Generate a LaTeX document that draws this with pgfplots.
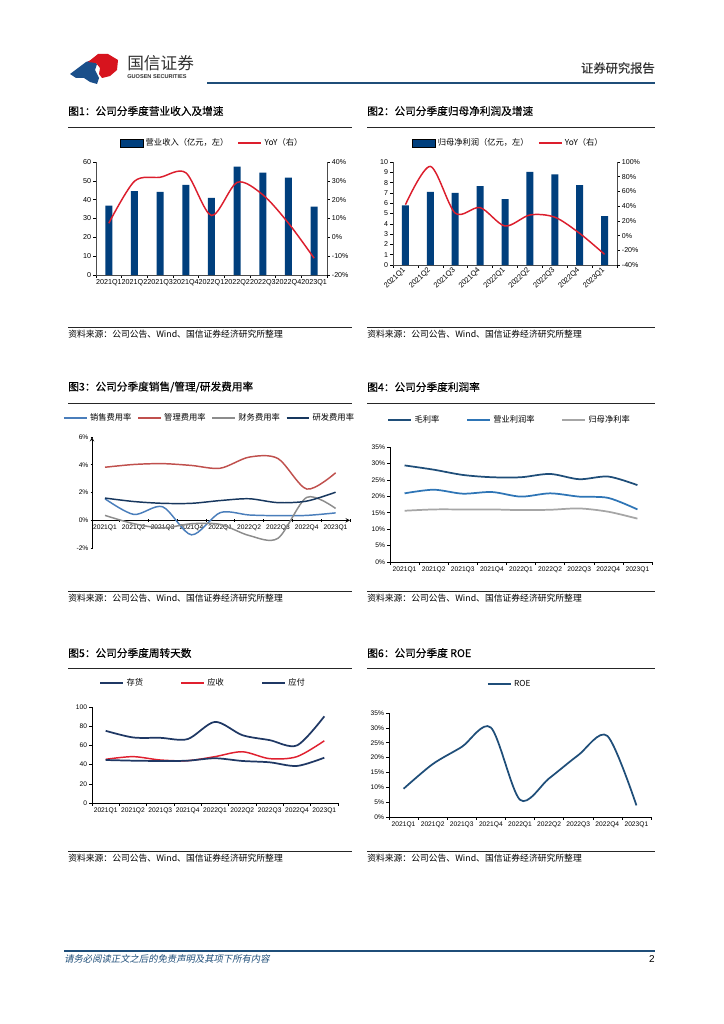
\documentclass[border=0pt]{standalone}
\usepackage{fontspec}
\usepackage{pgfplots}
\pgfplotsset{compat=1.18}
\setmainfont{Liberation Sans}
\newfontfamily\cjk{Noto Sans CJK SC}
\newfontfamily\cjkt[FakeBold=0.5]{Noto Sans CJK SC}
\newfontfamily\cjki[FakeSlant=0.2]{Noto Sans CJK SC}
\newcommand{\fs}[1]{\fontsize{#1}{#1}\selectfont}
\definecolor{barnavy}{HTML}{003F7D}
\definecolor{yoyred}{HTML}{DC1E2D}
\definecolor{c3blue}{HTML}{4A7EBB}
\definecolor{c3red}{HTML}{C0504D}
\definecolor{c3gray}{HTML}{8C8C8C}
\definecolor{c3navy}{HTML}{17375E}
\definecolor{c4navy}{HTML}{1F4E79}
\definecolor{c4blue}{HTML}{2E75B6}
\definecolor{c4gray}{HTML}{A6A6A6}
\definecolor{c5navy}{HTML}{1F3864}
\definecolor{c5red}{HTML}{E0202F}
\definecolor{hdrblue}{HTML}{1F4E79}
\definecolor{logored}{HTML}{D7141E}
\definecolor{logoblue}{HTML}{1B4F8A}

\pgfplotsset{
  base/.style={
    scale only axis, anchor=south west, clip=false,
    xmin=-0.5, xmax=8.5,
    xtick={0,...,8},
    xticklabels={2021Q1,2021Q2,2021Q3,2021Q4,2022Q1,2022Q2,2022Q3,2022Q4,2023Q1},
    major x tick style={draw=none},
    minor xtick={-0.5,0.5,...,8.5},
    minor tick length=2.2pt,
    minor x tick style={black,line width=0.4pt},
    tick align=outside, major tick length=2pt,
    y tick style={black,line width=0.4pt},
    axis line style={black,line width=0.5pt,-},
    ticklabel style={font=\fs{5}, inner sep=1.5pt},
    legend style={draw=none, fill=none, font=\cjk\fs{6.2}, legend columns=-1,
      anchor=center, inner sep=0pt,
      /tikz/every even column/.append style={column sep=4pt}},
    legend cell align=left,
  },
  rax/.style={
    scale only axis, anchor=south west, clip=false,
    xmin=-0.5, xmax=8.5, axis x line=none, axis y line*=right,
    tick align=outside, major tick length=2pt,
    y tick style={black,line width=0.4pt},
    axis line style={black!70,line width=0.5pt,-},
    ticklabel style={font=\fs{5.3}, inner sep=1.5pt},
    legend style={draw=none, fill=none, font=\cjk\fs{6.2}, legend columns=-1,
      anchor=center, inner sep=0pt,
      /tikz/every even column/.append style={column sep=5pt}},
    legend cell align=left,
  },
}

\begin{document}
\begin{tikzpicture}[x=0.75pt,y=-0.75pt]
\fill[white] (0,0) rectangle (724,1024);

% ---------- header ----------
\fill[logoblue] (70,74) -- (86,62) -- (92,60) -- (97,64) -- (95,70) -- (99,78) -- (97,84) -- (90,82) -- (84,78) -- (76,78) -- cycle;
\fill[logored] (88,62) -- (98,54) -- (108,54) -- (113,57) -- (118,60) -- (117,70) -- (110,76) -- (102,78) -- (99,74) -- (100,68) -- (96,63) -- cycle;
\node[anchor=west, inner sep=0, text=black!80] at (127,63) {\cjk\fs{12.5}国信证券};
\node[anchor=west, inner sep=0, text=black!80] at (127,77) {\bfseries\fs{4.2}GUOSEN SECURITIES};
\node[anchor=east, inner sep=0, text=black!80] at (655,68) {\cjkt\fs{9.2}证券研究报告};
\draw[hdrblue, line width=1.6pt] (207,83) -- (655,83);

% ---------- titles and rules ----------
\node[anchor=west, inner sep=0] at (68,111) {\cjkt\fs{8}图1：公司分季度营业收入及增速};
\node[anchor=west, inner sep=0] at (367,111) {\cjkt\fs{8}图2：公司分季度归母净利润及增速};
\node[anchor=west, inner sep=0] at (68,387) {\cjkt\fs{8}图3：公司分季度销售/管理/研发费用率};
\node[anchor=west, inner sep=0] at (367,387) {\cjkt\fs{8}图4：公司分季度利润率};
\node[anchor=west, inner sep=0] at (68,653) {\cjkt\fs{8}图5：公司分季度周转天数};
\node[anchor=west, inner sep=0] at (367,653) {\cjkt\fs{8}图6：公司分季度 ROE};
\foreach \yy in {127,403,668} {
  \draw[line width=0.6pt, black!85] (68,\yy) -- (352,\yy);
  \draw[line width=0.6pt, black!85] (367,\yy) -- (655,\yy);
}
\foreach \yy in {327,591,851} {
  \draw[line width=0.6pt, black!85] (68,\yy) -- (352,\yy);
  \draw[line width=0.6pt, black!85] (367,\yy) -- (655,\yy);
  \node[anchor=west, inner sep=0] at (68,\yy+7) {\cjk\fs{6.6}资料来源：公司公告、Wind、国信证券经济研究所整理};
  \node[anchor=west, inner sep=0] at (367,\yy+7) {\cjk\fs{6.6}资料来源：公司公告、Wind、国信证券经济研究所整理};
}

% ---------- footer ----------
\draw[hdrblue, line width=0.8pt] (64,951) -- (655,951);
\node[anchor=west, inner sep=0, text=hdrblue] at (64,959) {\cjki\fs{7}请务必阅读正文之后的免责声明及其项下所有内容};
\node[anchor=east, inner sep=0] at (655,959) {\fs{7.5}2};

% ---------- Chart 1 ----------
\begin{axis}[base, at={(72pt,-206.25pt)}, width=173.25pt, height=84.75pt,
  axis x line*=bottom, axis y line*=left,
  axis line style={black!70},
  ymin=0, ymax=60, ytick={0,10,...,60}, yticklabels={0,10,20,30,40,50,60},
  ticklabel style={font=\fs{5.4}}]
\addplot[ybar, bar width=5.25pt, fill=barnavy, draw=none] coordinates {
 (0,36.8) (1,44.6) (2,44.2) (3,47.9) (4,41.0) (5,57.6) (6,54.3) (7,51.7) (8,36.3)};
\end{axis}
\begin{axis}[rax, at={(72pt,-206.25pt)}, width=173.25pt, height=84.75pt,
  ymin=-20, ymax=40, ytick={-20,-10,...,40},
  yticklabels={-20\%,-10\%,0\%,10\%,20\%,30\%,40\%},
  legend style={at={(0.504,1.168)}}]
\addlegendimage{area legend, fill=barnavy, draw=none}
\addlegendentry{营业收入（亿元，左）}
\addplot[yoyred, line width=1.1pt, smooth] coordinates {
 (0,7.5) (1,29.8) (2,31.9) (3,34.3) (4,11.6) (5,29.2) (6,22.6) (7,7.5) (8,-11.1)};
\addlegendentry{YoY（右）}
\end{axis}

% ---------- Chart 2 ----------
\begin{axis}[base, at={(294.75pt,-198.75pt)}, width=168pt, height=77.25pt,
  axis x line*=bottom, axis y line*=left,
  axis line style={black!70},
  ymin=0, ymax=10, ytick={0,1,...,10}, yticklabels={0,1,2,3,4,5,6,7,8,9,10},
  ticklabel style={font=\fs{5.3}},
  xticklabel style={rotate=45, anchor=east, font=\fs{5.6}, inner sep=1pt}]
\addplot[ybar, bar width=5.25pt, fill=barnavy, draw=none] coordinates {
 (0,5.8) (1,7.1) (2,7.0) (3,7.65) (4,6.4) (5,9.05) (6,8.8) (7,7.75) (8,4.75)};
\end{axis}
\begin{axis}[rax, at={(294.75pt,-198.75pt)}, width=168pt, height=77.25pt,
  ymin=-40, ymax=100, ytick={-40,-20,...,100},
  yticklabels={-40\%,-20\%,0\%,20\%,40\%,60\%,80\%,100\%},
  legend style={at={(0.516,1.184)}}]
\addlegendimage{area legend, fill=barnavy, draw=none}
\addlegendentry{归母净利润（亿元，左）}
\addplot[yoyred, line width=1.1pt, smooth] coordinates {
 (0,42) (1,94) (2,30.5) (3,38) (4,13) (5,28) (6,25) (7,3) (8,-25.5)};
\addlegendentry{YoY（右）}
\end{axis}

% ---------- Chart 3 ----------
\begin{axis}[base, at={(69pt,-411pt)}, width=193.5pt, height=83.25pt, xmin=-0.45,
  axis x line=middle, axis y line=left,
  hide obscured x ticks=false, hide obscured y ticks=false,
  ymin=-2, ymax=6, ytick={-2,0,...,6}, yticklabels={-2\%,0\%,2\%,4\%,6\%},
  xticklabel style={anchor=north, yshift=-1pt},
  legend style={at={(0.457,1.171)}, /tikz/every even column/.append style={column sep=2.5pt}}]
\addplot[c3blue, line width=1.1pt, smooth] coordinates {
 (0,1.55) (1,0.42) (2,0.97) (3,-1.05) (4,0.55) (5,0.38) (6,0.33) (7,0.35) (8,0.53)};
\addlegendentry{销售费用率}
\addplot[c3red, line width=1.1pt, smooth] coordinates {
 (0,3.82) (1,4.02) (2,4.08) (3,3.95) (4,3.75) (5,4.55) (6,4.45) (7,2.25) (8,3.42)};
\addlegendentry{管理费用率}
\addplot[c3gray, line width=1.1pt, smooth] coordinates {
 (0,0.35) (1,-0.25) (2,-0.55) (3,-0.25) (4,-0.3) (5,-1.1) (6,-1.3) (7,1.65) (8,0.85)};
\addlegendentry{财务费用率}
\addplot[c3navy, line width=1.1pt, smooth] coordinates {
 (0,1.6) (1,1.35) (2,1.22) (3,1.22) (4,1.42) (5,1.55) (6,1.27) (7,1.38) (8,2.02)};
\addlegendentry{研发费用率}
\end{axis}

% ---------- Chart 4 ----------
\begin{axis}[base, at={(292.5pt,-421.5pt)}, width=196.5pt, height=86.25pt,
  axis x line*=bottom, axis y line*=left,
  ymin=0, ymax=35, ytick={0,5,...,35},
  yticklabels={0\%,5\%,10\%,15\%,20\%,25\%,30\%,35\%},
  legend style={at={(0.458,1.235)}, /tikz/every even column/.append style={column sep=18pt}}]
\addplot[c4navy, line width=1.3pt, smooth] coordinates {
 (0,29.4) (1,28.1) (2,26.5) (3,25.8) (4,25.8) (5,26.8) (6,25.2) (7,26.0) (8,23.4)};
\addlegendentry{毛利率}
\addplot[c4blue, line width=1.3pt, smooth] coordinates {
 (0,20.9) (1,22.0) (2,20.8) (3,21.3) (4,19.9) (5,20.9) (6,19.9) (7,19.5) (8,16.0)};
\addlegendentry{营业利润率}
\addplot[c4gray, line width=1.3pt, smooth] coordinates {
 (0,15.6) (1,16.0) (2,16.0) (3,16.0) (4,15.8) (5,15.9) (6,16.3) (7,15.3) (8,13.2)};
\addlegendentry{归母净利率}
\end{axis}

% ---------- Chart 5 ----------
\begin{axis}[base, at={(69pt,-602.25pt)}, width=184.5pt, height=72pt,
  axis x line*=bottom, axis y line*=left,
  ymin=0, ymax=100, ytick={0,20,...,100},
  yticklabels={0,20,40,60,80,100},
  legend style={at={(0.453,1.25)}, /tikz/every even column/.append style={column sep=26pt}}]
\addplot[c5navy, line width=1.3pt, smooth] coordinates {
 (0,75.2) (1,68.3) (2,67.9) (3,66.6) (4,84.5) (5,70.7) (6,65.5) (7,60.0) (8,90.3)};
\addlegendentry{存货}
\addplot[c5red, line width=1.1pt, smooth] coordinates {
 (0,45.5) (1,48.3) (2,44.8) (3,44.1) (4,48.3) (5,53.4) (6,46.2) (7,48.3) (8,64.8)};
\addlegendentry{应收}
\addplot[c5navy, line width=1.3pt, smooth] coordinates {
 (0,44.8) (1,44.1) (2,43.8) (3,44.1) (4,46.6) (5,43.8) (6,42.4) (7,38.6) (8,47.2)};
\addlegendentry{应付}
\end{axis}

% ---------- Chart 6 ----------
\begin{axis}[base, at={(291.75pt,-612.75pt)}, width=196.5pt, height=78pt,
  axis x line*=bottom, axis y line*=left,
  ymin=0, ymax=35, ytick={0,5,...,35},
  yticklabels={0\%,5\%,10\%,15\%,20\%,25\%,30\%,35\%},
  legend style={at={(0.462,1.279)}}]
\addplot[c4navy, line width=1.3pt, smooth] coordinates {
 (0,9.5) (1,17.8) (2,23.6) (3,30.1) (4,5.8) (5,13.0) (6,20.8) (7,27.3) (8,3.9)};
\addlegendentry{ROE}
\end{axis}

\end{tikzpicture}
\end{document}
